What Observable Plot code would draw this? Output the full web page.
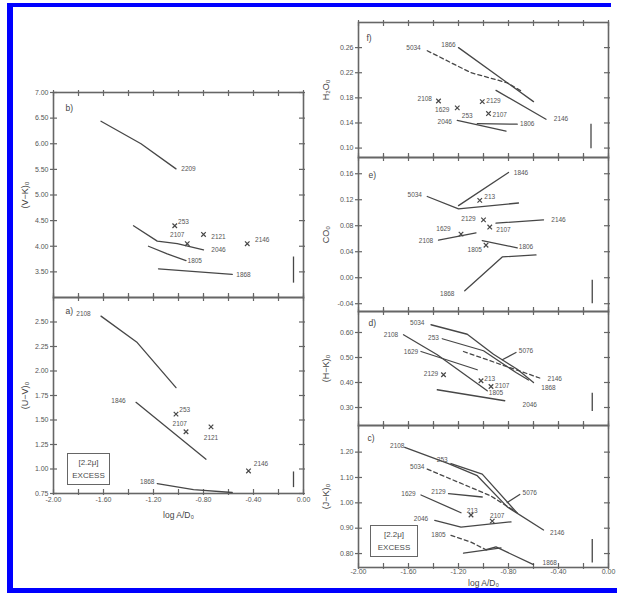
<!DOCTYPE html>
<html>
<head>
<meta charset="utf-8">
<script src="https://cdn.jsdelivr.net/npm/d3@7"></script>
<script src="https://cdn.jsdelivr.net/npm/@observablehq/plot@0.6"></script>
<style>
  body { margin: 0; background: #fff; }
  #page { position: relative; width: 617px; height: 598px; overflow: hidden; background: #fff;
          font-family: "Liberation Sans", "DejaVu Sans", Arial, sans-serif; }
  .panel { position: absolute; }
  .bar { position: absolute; background: #0000ff; }
  .excess { position: absolute; box-sizing: border-box; border: 1px solid #666; color: #4a4a4a;
            font-size: 8px; line-height: 13px; text-align: center; padding-top: 2px; }
</style>
</head>
<body>
<div id="page"></div>
<script>
// ---- axes ----------------------------------------------------------------
const xTicks = [-2.0, -1.8, -1.6, -1.4, -1.2, -1.0, -0.8, -0.6, -0.4, -0.2, 0.0];
const xLabelTicks = [-2.0, -1.6, -1.2, -0.8, -0.4, 0.0];

const vkTicks = [3.5, 4.0, 4.5, 5.0, 5.5, 6.0, 6.5, 7.0];
const uvTicks = [0.75, 1.0, 1.25, 1.5, 1.75, 2.0, 2.25, 2.5];
const h2oTicks = [0.10, 0.14, 0.18, 0.22, 0.26];
const coTicks = [-0.04, 0.0, 0.04, 0.08, 0.12, 0.16];
const hkTicks = [0.3, 0.4, 0.5, 0.6];
const jkTicks = [0.8, 0.9, 1.0, 1.1, 1.2];

// ---- b) (V-K)0 -------------------------------------------------------------
const vkSolid = [
  {id: "2209", x: [-1.62, -1.30, -1.02], y: [6.44, 6.00, 5.51]},
  {id: "2046", x: [-1.36, -1.17, -1.01, -0.80], y: [4.40, 4.10, 4.05, 3.93]},
  {id: "1805", x: [-1.24, -1.09, -0.94], y: [4.00, 3.85, 3.72]},
  {id: "1868", x: [-1.16, -0.57], y: [3.56, 3.45]}
];
const vkPoints = [
  {id: "253", x: -1.03, y: 4.40}, {id: "2107", x: -0.93, y: 4.05},
  {id: "2121", x: -0.80, y: 4.23}, {id: "2146", x: -0.45, y: 4.05}
];
const vkLabels = [
  {text: "2209", x: -0.92, y: 5.50}, {text: "253", x: -0.96, y: 4.48},
  {text: "2107", x: -1.01, y: 4.22}, {text: "2121", x: -0.68, y: 4.18},
  {text: "2146", x: -0.33, y: 4.13}, {text: "2046", x: -0.68, y: 3.92},
  {text: "1805", x: -0.87, y: 3.72}, {text: "1868", x: -0.48, y: 3.45}
];
const vkError = {x: -0.08, y1: 3.28, y2: 3.79};

// ---- a) (U-V)0 -------------------------------------------------------------
const uvSolid = [
  {id: "2108", x: [-1.62, -1.33, -1.02], y: [2.56, 2.29, 1.83]},
  {id: "1846", x: [-1.34, -0.78], y: [1.68, 1.10]},
  {id: "1868", x: [-1.17, -0.88, -0.57], y: [0.85, 0.79, 0.76]}
];
const uvPoints = [
  {id: "253", x: -1.02, y: 1.56}, {id: "2107", x: -0.94, y: 1.38},
  {id: "2121", x: -0.74, y: 1.43}, {id: "2146", x: -0.44, y: 0.98}
];
const uvLabels = [
  {text: "2108", x: -1.76, y: 2.58}, {text: "1846", x: -1.48, y: 1.69},
  {text: "253", x: -0.95, y: 1.60}, {text: "2107", x: -0.99, y: 1.46},
  {text: "2121", x: -0.74, y: 1.32}, {text: "2146", x: -0.34, y: 1.05},
  {text: "1868", x: -1.25, y: 0.87}
];
const uvError = {x: -0.08, y1: 0.81, y2: 0.97};

// ---- f) H2O ----------------------------------------------------------------
const h2oSolid = [
  {id: "1866", x: [-1.20, -0.60], y: [0.260, 0.174]},
  {id: "2146", x: [-0.90, -0.50], y: [0.192, 0.146]},
  {id: "2046", x: [-1.21, -0.82], y: [0.144, 0.127]},
  {id: "1806", x: [-1.05, -0.73], y: [0.139, 0.138]}
];
const h2oDashed = [
  {id: "5034", x: [-1.45, -1.10, -0.81, -0.70], y: [0.255, 0.220, 0.204, 0.191]}
];
const h2oPoints = [
  {id: "2108", x: -1.36, y: 0.175}, {id: "1629", x: -1.21, y: 0.164},
  {id: "2129", x: -1.01, y: 0.174}, {id: "2107", x: -0.96, y: 0.155}
];
const h2oLabels = [
  {text: "5034", x: -1.56, y: 0.259}, {text: "1866", x: -1.28, y: 0.265},
  {text: "2146", x: -0.38, y: 0.146}, {text: "2108", x: -1.47, y: 0.179},
  {text: "1629", x: -1.33, y: 0.161}, {text: "253", x: -1.13, y: 0.152},
  {text: "2129", x: -0.92, y: 0.175}, {text: "2107", x: -0.87, y: 0.153},
  {text: "2046", x: -1.31, y: 0.141}, {text: "1806", x: -0.65, y: 0.138}
];
const h2oError = {x: -0.14, y1: 0.099, y2: 0.138};

// ---- e) CO -----------------------------------------------------------------
const coSolid = [
  {id: "1846", x: [-1.20, -0.80], y: [0.111, 0.162]},
  {id: "5034", x: [-1.45, -1.20, -0.72], y: [0.125, 0.106, 0.115]},
  {id: "2146", x: [-0.90, -0.52], y: [0.084, 0.089]},
  {id: "2108", x: [-1.36, -1.06], y: [0.058, 0.069]},
  {id: "1806", x: [-1.01, -0.73], y: [0.057, 0.046]},
  {id: "1868", x: [-1.15, -0.85, -0.58], y: [-0.020, 0.032, 0.035]}
];
const coPoints = [
  {id: "213", x: -1.03, y: 0.119}, {id: "2129", x: -1.00, y: 0.089},
  {id: "2107", x: -0.95, y: 0.078}, {id: "1629", x: -1.18, y: 0.067},
  {id: "1805", x: -0.98, y: 0.050}
];
const coLabels = [
  {text: "1846", x: -0.70, y: 0.162}, {text: "5034", x: -1.55, y: 0.127},
  {text: "213", x: -0.95, y: 0.124}, {text: "2129", x: -1.12, y: 0.090},
  {text: "2107", x: -0.84, y: 0.073}, {text: "2146", x: -0.40, y: 0.089},
  {text: "1629", x: -1.32, y: 0.075}, {text: "2108", x: -1.46, y: 0.057},
  {text: "1805", x: -1.07, y: 0.043}, {text: "1806", x: -0.66, y: 0.047},
  {text: "1868", x: -1.29, y: -0.025}
];
const coError = {x: -0.13, y1: -0.040, y2: -0.004};

// ---- d) (H-K)0 -------------------------------------------------------------
const hkSolid = [
  {id: "5034", x: [-1.42, -1.13, -0.92, -0.73, -0.60], y: [0.631, 0.593, 0.513, 0.453, 0.400]},
  {id: "253", x: [-1.33, -1.00, -0.74, -0.64], y: [0.575, 0.527, 0.440, 0.410]},
  {id: "5076", x: [-0.74, -0.85], y: [0.520, 0.491]},
  {id: "2108", x: [-1.64, -1.37, -0.97], y: [0.591, 0.511, 0.367]},
  {id: "1629", x: [-1.50, -1.05], y: [0.524, 0.451]},
  {id: "2046", x: [-1.37, -0.83], y: [0.371, 0.327]}
];
const hkDashed = [
  {id: "2146", x: [-1.16, -0.55], y: [0.524, 0.418]}
];
const hkPoints = [
  {id: "2129", x: -1.32, y: 0.431}, {id: "213", x: -1.02, y: 0.407},
  {id: "2107", x: -0.94, y: 0.384}
];
const hkLabels = [
  {text: "5034", x: -1.53, y: 0.637}, {text: "253", x: -1.40, y: 0.577},
  {text: "5076", x: -0.66, y: 0.527}, {text: "2146", x: -0.43, y: 0.413},
  {text: "1868", x: -0.48, y: 0.377}, {text: "2108", x: -1.74, y: 0.591},
  {text: "1629", x: -1.58, y: 0.524}, {text: "2129", x: -1.42, y: 0.433},
  {text: "213", x: -0.95, y: 0.415}, {text: "2107", x: -0.85, y: 0.387},
  {text: "1805", x: -0.90, y: 0.357}, {text: "2046", x: -0.63, y: 0.311}
];
const hkError = {x: -0.13, y1: 0.284, y2: 0.357};

// ---- c) (J-K)0 -------------------------------------------------------------
const jkSolid = [
  {id: "2108", x: [-1.63, -1.28, -1.05, -0.81, -0.52], y: [1.219, 1.155, 1.107, 0.984, 0.893]},
  {id: "253", x: [-1.26, -1.01, -0.74], y: [1.155, 1.113, 0.965]},
  {id: "5076", x: [-0.71, -0.81], y: [1.033, 1.001]},
  {id: "2129", x: [-1.28, -1.01], y: [1.036, 1.023]},
  {id: "1629", x: [-1.50, -1.18], y: [1.031, 0.961]},
  {id: "2046", x: [-1.39, -1.18, -0.78], y: [0.931, 0.904, 0.925]},
  {id: "1868", x: [-0.98, -0.90, -0.60], y: [0.815, 0.826, 0.756]},
  {id: "1806", x: [-1.16, -0.86], y: [0.802, 0.822]}
];
const jkDashed = [
  {id: "5034", x: [-1.45, -0.94, -0.73], y: [1.133, 1.027, 0.961]},
  {id: "1805", x: [-1.26, -1.10, -0.98], y: [0.872, 0.845, 0.815]}
];
const jkPoints = [
  {id: "213", x: -1.10, y: 0.952}, {id: "2107", x: -0.93, y: 0.928}
];
const jkLabels = [
  {text: "2108", x: -1.69, y: 1.226}, {text: "253", x: -1.33, y: 1.169},
  {text: "5034", x: -1.53, y: 1.140}, {text: "5076", x: -0.63, y: 1.040},
  {text: "2129", x: -1.36, y: 1.044}, {text: "1629", x: -1.60, y: 1.034},
  {text: "213", x: -1.09, y: 0.970}, {text: "2107", x: -0.89, y: 0.948},
  {text: "2046", x: -1.50, y: 0.935}, {text: "1805", x: -1.36, y: 0.875},
  {text: "1868", x: -0.47, y: 0.763}, {text: "2146", x: -0.41, y: 0.882}
];
const jkError = {x: -0.13, y1: 0.763, y2: 0.855};

// ---- drawing ---------------------------------------------------------------
const INK = "#474747";
const TXT = "#555";
const RIM = "#666";
const FONT = "'Liberation Sans', 'DejaVu Sans', Arial, sans-serif";
const page = document.getElementById("page");

const flat = tracks => tracks.flatMap(t => t.x.map((x, i) => ({id: t.id, x, y: t.y[i]})));
const fmt = d => d.toFixed(2);

function drawPanel(p) {
  const {left, top, innerW = 250, innerH, ml, mr = 8, mt = 6, mb = 6, domain, ticks,
         title, titleDx, letter, letterDx, letterDy, solid = [], dashed = [],
         points = [], labels = [], err, xAxisTitleDy = null} = p;
  const tin = 4, tout = 2; // tick lengths inside / outside the frame
  const marks = [
    Plot.frame({stroke: RIM, strokeWidth: 1.6}),
    // ticks crossing the frame on all four sides
    Plot.tickX(xTicks, {x: d => d, insetTop: innerH - tin, insetBottom: -tout, stroke: RIM, strokeWidth: 1.2}),
    Plot.tickX(xTicks, {x: d => d, insetBottom: innerH - tin, insetTop: -tout, stroke: RIM, strokeWidth: 1.2}),
    Plot.tickY(ticks, {y: d => d, insetRight: innerW - tin, insetLeft: -3, stroke: RIM, strokeWidth: 1.2}),
    Plot.tickY(ticks, {y: d => d, insetLeft: innerW - tin, insetRight: -tout, stroke: RIM, strokeWidth: 1.2}),
    Plot.axisY({ticks, anchor: "left", tickSize: 0, tickPadding: 5, tickFormat: fmt,
                label: null, fontSize: 7, color: TXT}),
    Plot.text([title], {text: d => d, frameAnchor: "left", dx: -titleDx, rotate: -90,
                        textAnchor: "middle", lineAnchor: "middle", fontSize: 9, fill: "#444"}),
    Plot.text([letter], {text: d => d, frameAnchor: "top-left", dx: letterDx, dy: letterDy,
                         textAnchor: "start", lineAnchor: "middle", fontSize: 8.5, fill: "#444"}),
    Plot.line(flat(solid), {x: "x", y: "y", z: "id", stroke: INK, strokeWidth: 1.3}),
    Plot.line(flat(dashed), {x: "x", y: "y", z: "id", stroke: INK, strokeWidth: 1.3,
                             strokeDasharray: "4,3"}),
    Plot.dot(points, {x: "x", y: "y", symbol: "times", r: 2.2, stroke: INK, strokeWidth: 1.2}),
    Plot.text(labels, {x: "x", y: "y", text: "text", fontSize: 6.5, fill: TXT}),
    Plot.ruleX([err], {x: "x", y1: "y1", y2: "y2", stroke: INK, strokeWidth: 1.3})
  ];
  if (xAxisTitleDy !== null) {
    marks.push(
      Plot.axisX({ticks: xLabelTicks, anchor: "bottom", tickSize: 0, tickPadding: p.xPad,
                  tickFormat: fmt, label: null, fontSize: 7, color: TXT}),
      Plot.text(["log A/D₀"], {text: d => d, frameAnchor: "bottom", dy: xAxisTitleDy,
                               textAnchor: "middle", lineAnchor: "middle", fontSize: 8.5, fill: "#444"})
    );
  }
  const svg = Plot.plot({
    width: ml + innerW + mr,
    height: mt + innerH + mb,
    marginLeft: ml, marginRight: mr, marginTop: mt, marginBottom: mb,
    x: {domain: [-2, 0], axis: null},
    y: {domain, axis: null},
    style: {background: "transparent", overflow: "visible", fontFamily: FONT, fontSize: "7px", color: TXT},
    marks
  });
  svg.classList.add("panel");
  svg.style.left = (left - ml) + "px";
  svg.style.top = (top - mt) + "px";
  page.appendChild(svg);
}

// left column
drawPanel({left: 53, top: 92, innerH: 205, ml: 53, mr: 10, domain: [3.0, 7.0], ticks: vkTicks,
           title: "(V−K)₀", titleDx: 28, letter: "b)", letterDx: 12, letterDy: 16,
           solid: vkSolid, points: vkPoints, labels: vkLabels, err: vkError});
drawPanel({left: 53, top: 297, innerH: 196, ml: 53, mr: 10, mb: 30, domain: [0.75, 2.75], ticks: uvTicks,
           title: "(U−V)₀", titleDx: 28, letter: "a)", letterDx: 12, letterDy: 14,
           solid: uvSolid, points: uvPoints, labels: uvLabels, err: uvError,
           xAxisTitleDy: 22, xPad: 4});

// right column
drawPanel({left: 358, top: 22, innerH: 135, ml: 45, domain: [0.085, 0.30], ticks: h2oTicks,
           title: "H₂O₀", titleDx: 32, letter: "f)", letterDx: 8, letterDy: 16,
           solid: h2oSolid, dashed: h2oDashed, points: h2oPoints, labels: h2oLabels, err: h2oError});
drawPanel({left: 358, top: 157, innerH: 154, ml: 45, domain: [-0.052, 0.185], ticks: coTicks,
           title: "CO₀", titleDx: 32, letter: "e)", letterDx: 10, letterDy: 18,
           solid: coSolid, points: coPoints, labels: coLabels, err: coError});
drawPanel({left: 358, top: 311, innerH: 114, ml: 45, domain: [0.228, 0.684], ticks: hkTicks,
           title: "(H−K)₀", titleDx: 32, letter: "d)", letterDx: 10, letterDy: 12,
           solid: hkSolid, dashed: hkDashed, points: hkPoints, labels: hkLabels, err: hkError});
drawPanel({left: 358, top: 425, innerH: 142, ml: 45, mb: 26, domain: [0.745, 1.305], ticks: jkTicks,
           title: "(J−K)₀", titleDx: 32, letter: "c)", letterDx: 9, letterDy: 13,
           solid: jkSolid, dashed: jkDashed, points: jkPoints, labels: jkLabels, err: jkError,
           xAxisTitleDy: 16, xPad: 2});

// 2.2 micron excess keys
function excessKey(left, top, w, h) {
  const box = document.createElement("div");
  box.className = "excess";
  Object.assign(box.style, {left: left + "px", top: top + "px", width: w + "px", height: h + "px"});
  box.innerHTML = "<div>[2.2μ]</div><div>EXCESS</div>";
  page.appendChild(box);
}
excessKey(67, 453, 43, 32);
excessKey(370, 525, 48, 32);

// page border
function bar(left, top, w, h) {
  const b = document.createElement("div");
  b.className = "bar";
  Object.assign(b.style, {left: left + "px", top: top + "px", width: w + "px", height: h + "px"});
  page.appendChild(b);
}
bar(7, 3, 604, 4);
bar(7, 3, 6, 590);
bar(7, 588, 610, 5);
</script>
</body>
</html>
